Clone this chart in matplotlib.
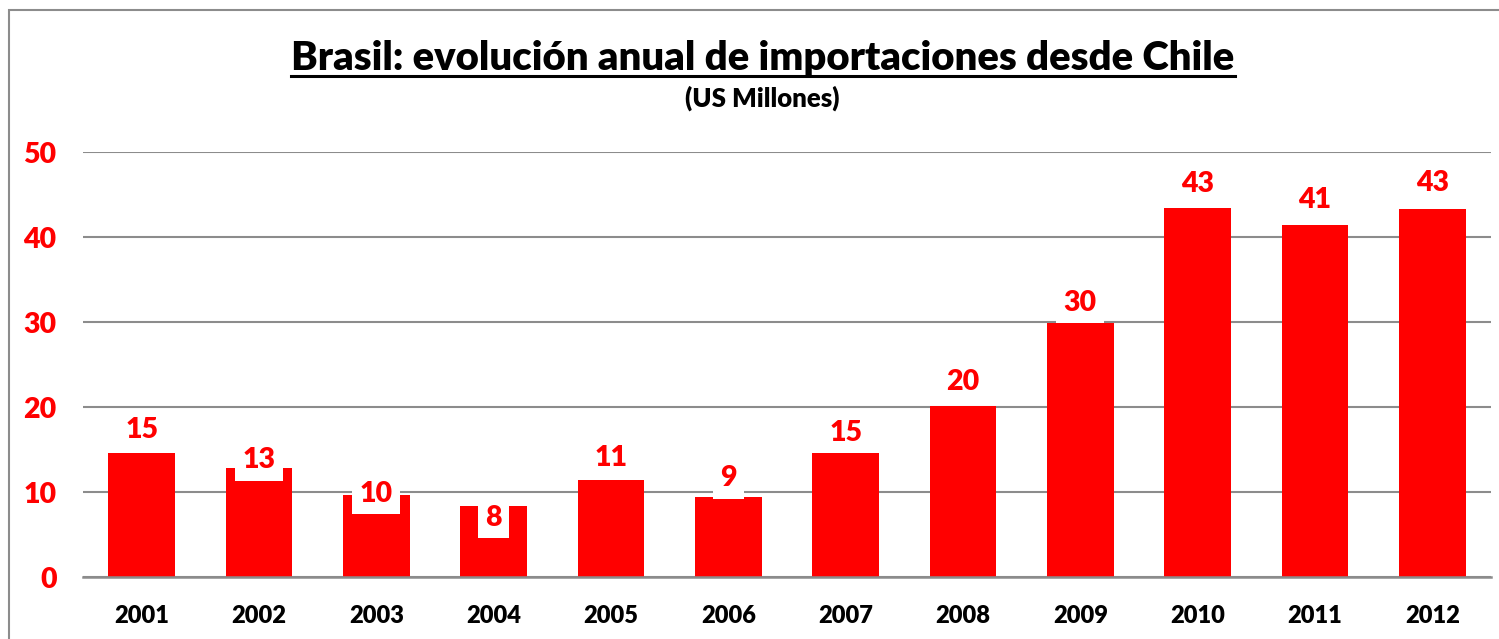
import matplotlib.pyplot as plt
from matplotlib.patches import Rectangle
from matplotlib.lines import Line2D

plt.rcParams['font.family'] = ['Lato', 'DejaVu Sans']

# data (US millones)
years  = ['2001', '2002', '2003', '2004', '2005', '2006',
          '2007', '2008', '2009', '2010', '2011', '2012']
values = [14.6, 12.8, 9.7, 8.4, 11.4, 9.4, 14.6, 20.1, 29.9, 43.4, 41.4, 43.3]
y_ticks = [0, 10, 20, 30, 40, 50]

title    = 'Brasil: evolución anual de importaciones desde Chile'
subtitle = '(US Millones)'

# label offsets above bar top (pixels), the excel labels are not all at the same spot
label_dy = [23, 8, 1, -12, 22, 19, 20, 24, 20, 24, 25, 26]

RED  = '#FF0000'
GREY = '#8C8C8C'
W = 'heavy'

fig = plt.figure(figsize=(14.99, 6.39), dpi=100)
ax = fig.add_axes([0.0554, 0.097, 0.9393, 0.665])

x = range(len(years))
ax.bar(x, values, width=0.57, color=RED, zorder=2)

ax.set_xlim(-0.5, len(years) - 0.5)
ax.set_ylim(0, 50)
ax.set_yticks(y_ticks)
ax.set_xticks(list(x))
ax.set_xticklabels(years)

ax.yaxis.grid(True, color=GREY, lw=1.5, zorder=0)
ax.set_axisbelow(True)
for s in ['top', 'right', 'left']:
    ax.spines[s].set_visible(False)
ax.spines['bottom'].set_color(GREY)
ax.spines['bottom'].set_linewidth(1.8)
ax.spines['bottom'].set_zorder(3)

ax.tick_params(axis='both', length=0)
ax.tick_params(axis='y', pad=19, labelsize=20.5, labelcolor=RED)
ax.tick_params(axis='x', pad=20, labelsize=17, labelcolor='black')
for t in ax.get_yticklabels() + ax.get_xticklabels():
    t.set_fontweight(W)

for i, v in enumerate(values):
    ax.annotate(f'{v:.0f}', xy=(i, v), xytext=(0, label_dy[i]),
                textcoords='offset pixels', ha='center', va='center',
                color=RED, fontsize=20.5, fontweight=W, zorder=5,
                bbox=dict(boxstyle='square,pad=0.26', fc='white', ec='none'))

# titles
t1 = fig.text(763 / 1499, 1 - 70 / 639, title, ha='center', va='baseline',
              fontsize=28.8, fontweight=W, color='black')
fig.text(762 / 1499, 1 - 107 / 639, subtitle, ha='center', va='baseline',
         fontsize=18.5, fontweight=W, color='black')

# underline for the title
fig.canvas.draw()
bb = t1.get_window_extent().transformed(fig.transFigure.inverted())
fig.add_artist(Line2D([bb.x0, bb.x1], [1 - 75.5 / 639] * 2,
                      transform=fig.transFigure, color='black', lw=2.2))

# outer frame of the chart (right and bottom edges fall outside the picture)
fig.add_artist(Rectangle((8.5 / 1499, -0.1), 2, 1.1 - 10 / 639,
                         transform=fig.transFigure, fill=False,
                         edgecolor=GREY, lw=1.5, clip_on=False))

fig.savefig('out.png', dpi=100)
